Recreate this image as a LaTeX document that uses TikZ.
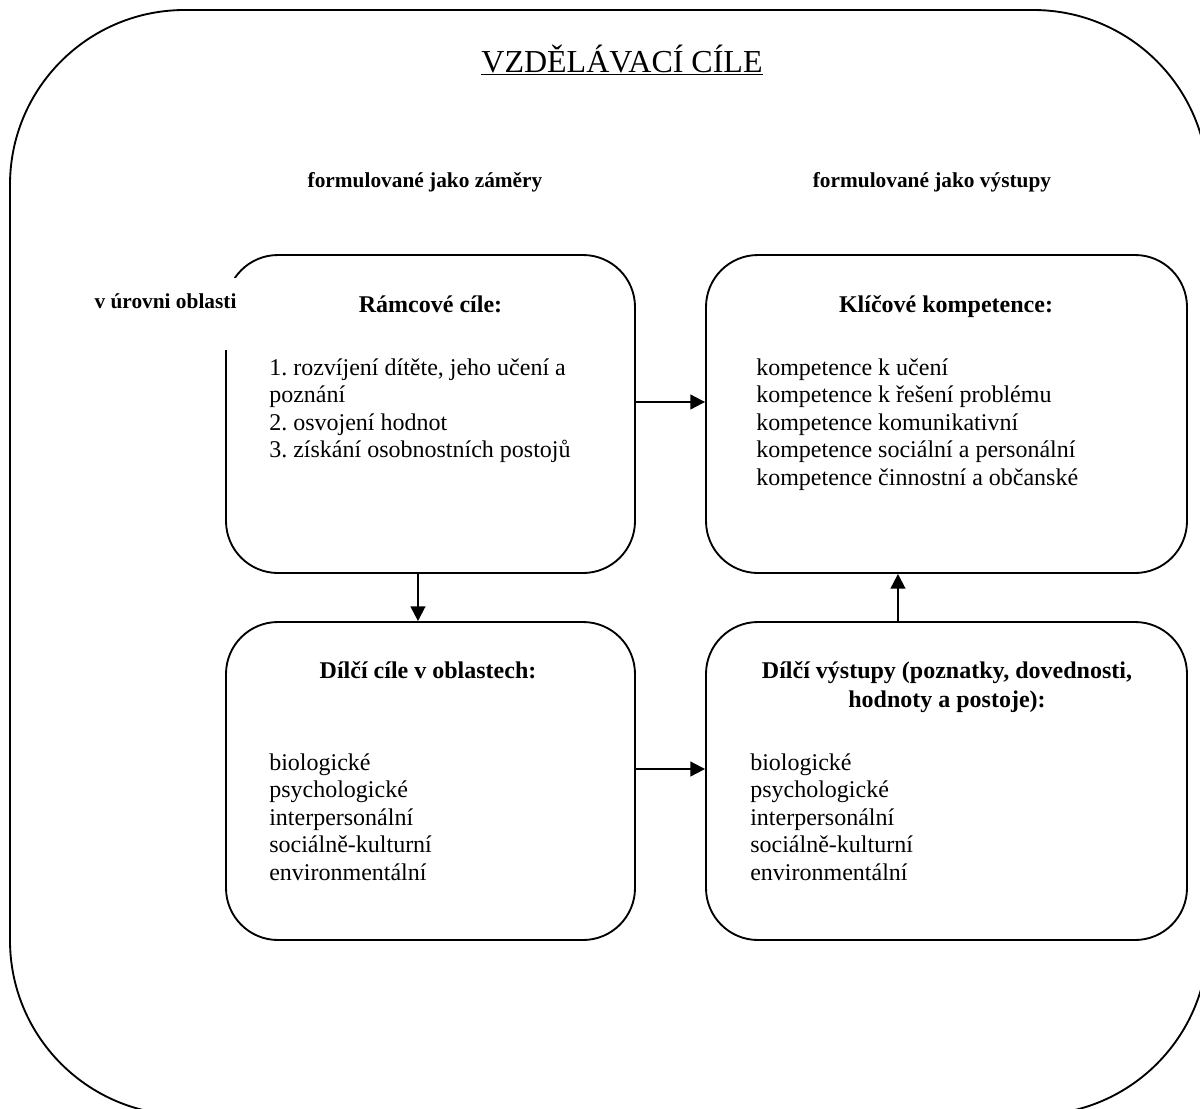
\documentclass[tikz,border=0pt]{standalone}
\usepackage{fontspec}
\setmainfont{Liberation Serif}
\usetikzlibrary{arrows.meta}
\begin{document}
\frenchspacing
\begin{tikzpicture}[x=0.75pt,y=-0.75pt,
  box/.style={draw, line width=1.4pt, rounded corners=39pt, inner sep=0pt,
    minimum height=238.5pt},
  narrowbox/.style={box, minimum width=306.75pt},
  widebox/.style={box, minimum width=360.75pt},
  titletext/.style={font=\fontsize{24pt}{28pt}\selectfont, inner sep=0pt},
  lab/.style={font=\bfseries\fontsize{16pt}{18pt}\selectfont, inner sep=0pt},
  head/.style={font=\bfseries\fontsize{18pt}{21.5pt}\selectfont, inner sep=0pt, align=center},
  body/.style={font=\fontsize{18pt}{20.6pt}\selectfont, inner sep=0pt, align=left},
  arr/.style={line width=1.5pt, -{Triangle[length=11pt,width=11pt]}}
]
\useasboundingbox (0,0) rectangle (1200,1108);
\clip (0,0) rectangle (1200,1108);
% outer frame
\draw[line width=1.4pt, rounded corners=131pt] (10,10) rectangle (1208,1115);

% title
\node[titletext, anchor=base] (title) at (622,72) {\underline{VZDĚLÁVACÍ CÍLE}};
\node[lab, anchor=base] (zam) at (425,187) {formulované jako záměry};
\node[lab, anchor=base] (vys) at (932,187) {formulované jako výstupy};

% boxes
\node[narrowbox] (ramc) at (430.5,414) {};
\node[widebox]   (klic) at (946.5,414) {};
\node[narrowbox] (dcil) at (430.5,781) {};
\node[widebox]   (dvys) at (946.5,781) {};

% level label masking the corner
\node[lab, anchor=base west, fill=white, inner xsep=7pt, inner ysep=0pt,
  text height=22.5pt, text depth=31.5pt] (lvl) at (85,308) {v úrovni oblasti};

% box texts (base anchor = baseline of the last line)
\node[head, anchor=base] (hA) at (430.5,312) {Rámcové cíle:};
\node[body, anchor=base west] (tA) at (269,457.5) {1. rozvíjení dítěte, jeho učení a\\poznání\\2. osvojení hodnot\\3. získání osobnostních postojů};

\node[head, anchor=base] (hB) at (946,312) {Klíčové kompetence:};
\node[body, anchor=base west] (tB) at (756,485) {kompetence k učení\\kompetence k řešení problému\\kompetence komunikativní\\kompetence sociální a personální\\kompetence činnostní a občanské};

\node[head, anchor=base] (hC) at (428,678) {Dílčí cíle v oblastech:};
\node[body, anchor=base west] (tC) at (269,880) {biologické\\psychologické\\interpersonální\\sociálně-kulturní\\environmentální};

\node[head, anchor=base] (hD) at (947,707) {Dílčí výstupy (poznatky, dovednosti,\\hodnoty a postoje):};
\node[body, anchor=base west] (tD) at (750,880) {biologické\\psychologické\\interpersonální\\sociálně-kulturní\\environmentální};

% connectors
\draw[arr] ([yshift=9pt]ramc.east) -- ([yshift=9pt]klic.west);
\draw[arr] ([xshift=-9.4pt]ramc.south) -- ([xshift=-9.4pt]dcil.north);
\draw[arr] ([yshift=9pt]dcil.east) -- ([yshift=9pt]dvys.west);
\draw[arr] ([xshift=-36.4pt]dvys.north) -- ([xshift=-36.4pt]klic.south);
\end{tikzpicture}
\end{document}
